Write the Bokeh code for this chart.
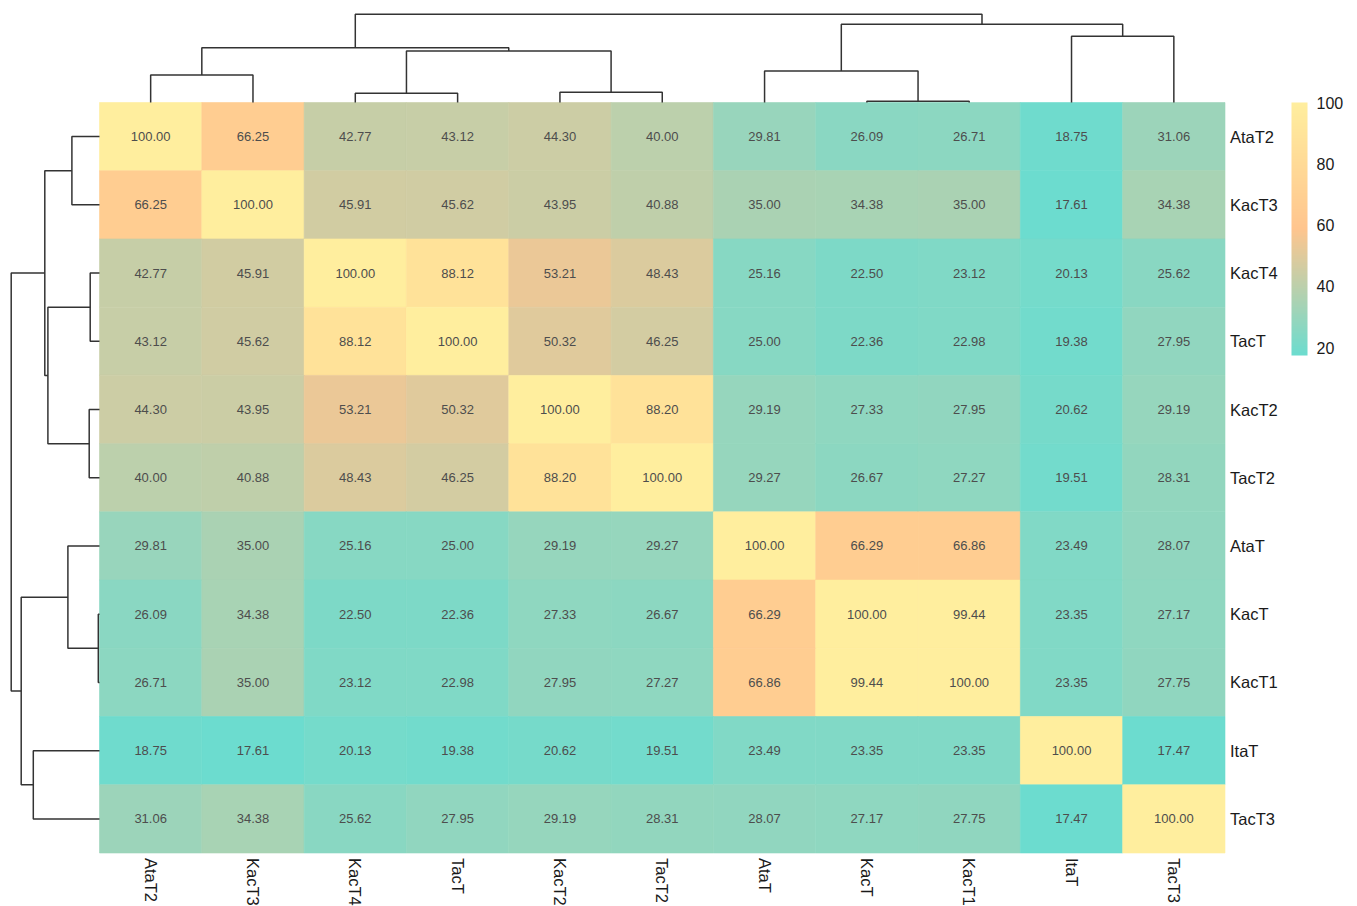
import numpy as np
from bokeh.plotting import figure
from bokeh.models import Range1d, ColumnDataSource, LinearColorMapper, ColorBar, FixedTicker
from bokeh.transform import transform
from bokeh.core.properties import value
from bokeh.embed import file_html
from bokeh.resources import INLINE

# ---- data -----------------------------------------------------------------
labels = ["AtaT2", "KacT3", "KacT4", "TacT", "KacT2", "TacT2",
          "AtaT", "KacT", "KacT1", "ItaT", "TacT3"]

identity = [
    [100.00, 66.25, 42.77, 43.12, 44.30, 40.00, 29.81, 26.09, 26.71, 18.75, 31.06],
    [66.25, 100.00, 45.91, 45.62, 43.95, 40.88, 35.00, 34.38, 35.00, 17.61, 34.38],
    [42.77, 45.91, 100.00, 88.12, 53.21, 48.43, 25.16, 22.50, 23.12, 20.13, 25.62],
    [43.12, 45.62, 88.12, 100.00, 50.32, 46.25, 25.00, 22.36, 22.98, 19.38, 27.95],
    [44.30, 43.95, 53.21, 50.32, 100.00, 88.20, 29.19, 27.33, 27.95, 20.62, 29.19],
    [40.00, 40.88, 48.43, 46.25, 88.20, 100.00, 29.27, 26.67, 27.27, 19.51, 28.31],
    [29.81, 35.00, 25.16, 25.00, 29.19, 29.27, 100.00, 66.29, 66.86, 23.49, 28.07],
    [26.09, 34.38, 22.50, 22.36, 27.33, 26.67, 66.29, 100.00, 99.44, 23.35, 27.17],
    [26.71, 35.00, 23.12, 22.98, 27.95, 27.27, 66.86, 99.44, 100.00, 23.35, 27.75],
    [18.75, 17.61, 20.13, 19.38, 20.62, 19.51, 23.49, 23.35, 23.35, 100.00, 17.47],
    [31.06, 34.38, 25.62, 27.95, 29.19, 28.31, 28.07, 27.17, 27.75, 17.47, 100.00],
]

# hierarchical clustering: leaves 0..10 follow the display order,
# merge k creates node 11 + k
merge_left = [7, 2, 4, 0, 6, 12, 14, 9, 15, 17]
merge_right = [8, 3, 5, 1, 11, 13, 16, 10, 18, 19]
merge_height = [1.2, 9.3, 10.3, 27.6, 31.6, 51.6, 54.7, 66.2, 78.3, 88.3]

colorbar_ticks = [20, 40, 60, 80, 100]

# ---- layout constants (pixels) -------------------------------------------
W, H = 1357, 906
HM_LEFT, HM_RIGHT = 99.0, 1224.5
HM_TOP, HM_BOTTOM = 102.0, 852.5
n = len(labels)
cw = (HM_RIGHT - HM_LEFT) / n      # px per column
ch = (HM_BOTTOM - HM_TOP) / n      # px per row

FONT_NAME = "Liberation Sans"
FONT = value(FONT_NAME)

# colour ramp: turquoise -> peach -> pale yellow
stops = ["#6CDCCF", "#FFC58E", "#FFEE9E"]


def hex2rgb(s):
    s = s.lstrip("#")
    return [int(s[i:i + 2], 16) for i in (0, 2, 4)]


def ramp(stop_list, count=256):
    rgb = [hex2rgb(s) for s in stop_list]
    out = []
    segs = len(rgb) - 1
    for t in np.linspace(0, 1, count):
        k = min(int(t * segs), segs - 1)
        f = t * segs - k
        c = [round(rgb[k][j] + (rgb[k + 1][j] - rgb[k][j]) * f) for j in range(3)]
        out.append("#%02x%02x%02x" % tuple(c))
    return out


palette = ramp(stops)
vals = np.array(identity)
mapper = LinearColorMapper(palette=palette, low=float(vals.min()), high=float(vals.max()))

p = figure(
    width=W, height=H,
    x_range=Range1d(-HM_LEFT / cw, (W - HM_LEFT) / cw),
    y_range=Range1d(-(H - HM_BOTTOM) / ch, n + HM_TOP / ch),
    x_axis_location=None, y_axis_location=None,
    min_border=0, output_backend="svg", toolbar_location=None,
)
p.grid.visible = False
p.outline_line_color = None
p.background_fill_color = "white"
p.border_fill_color = "white"

# ---- heatmap cells -------------------------------------------------------
xs, ys, vs, txt = [], [], [], []
for i in range(n):
    for j in range(n):
        xs.append(j + 0.5)
        ys.append(n - i - 0.5)
        vs.append(identity[i][j])
        txt.append("%.2f" % identity[i][j])
src = ColumnDataSource(dict(x=xs, y=ys, v=vs, t=txt))
p.rect("x", "y", width=1, height=1, source=src,
       fill_color=transform("v", mapper), line_color=transform("v", mapper), line_width=0.6)
p.text("x", "y", text="t", source=src, text_align="center", text_baseline="middle",
       text_font=FONT, text_font_size="13px", text_color="#4D4D4D")


# ---- dendrograms ---------------------------------------------------------
def dendro_segments(count):
    pos = {i: i + 0.5 for i in range(count)}
    hgt = {i: 0.0 for i in range(count)}
    seg_pos, seg_h = [], []
    for k, (a, b, hh) in enumerate(zip(merge_left, merge_right, merge_height)):
        seg_pos.append([pos[a], pos[a], pos[b], pos[b]])
        seg_h.append([hgt[a], hh, hh, hgt[b]])
        pos[count + k] = (pos[a] + pos[b]) / 2
        hgt[count + k] = hh
    return seg_pos, seg_h


seg_pos, seg_h = dendro_segments(n)
LINE = "#333333"
# columns (top)
p.multi_line([list(sp) for sp in seg_pos],
             [[n + v / ch for v in sh] for sh in seg_h],
             line_color=LINE, line_width=1.5)
# rows (left)
p.multi_line([[-v / cw for v in sh] for sh in seg_h],
             [[n - q for q in sp] for sp in seg_pos],
             line_color=LINE, line_width=1.5)

# ---- tick labels ---------------------------------------------------------
p.text([n + 5 / cw] * n, [n - i - 0.5 for i in range(n)], text=labels,
       text_align="left", text_baseline="middle", text_font=FONT,
       text_font_size="16.5px", text_color="#1a1a1a")
p.text([j + 0.5 for j in range(n)], [-5 / ch] * n, text=labels, angle=-np.pi / 2,
       text_align="left", text_baseline="middle", text_font=FONT,
       text_font_size="16.5px", text_color="#1a1a1a")

# ---- colour bar ----------------------------------------------------------
cb = ColorBar(
    color_mapper=mapper, orientation="vertical",
    location=(1291, H - 355), width=16, height=253,
    padding=0, margin=0, label_standoff=9,
    ticker=FixedTicker(ticks=colorbar_ticks),
    major_label_text_font=FONT_NAME, major_label_text_font_size="16px",
    major_label_text_color="#1a1a1a",
    major_tick_line_color=None, minor_tick_line_color=None,
    bar_line_color=None, border_line_color=None, background_fill_alpha=0,
)
p.add_layout(cb, "center")

open("out.html", "w").write(file_html(p, INLINE))
